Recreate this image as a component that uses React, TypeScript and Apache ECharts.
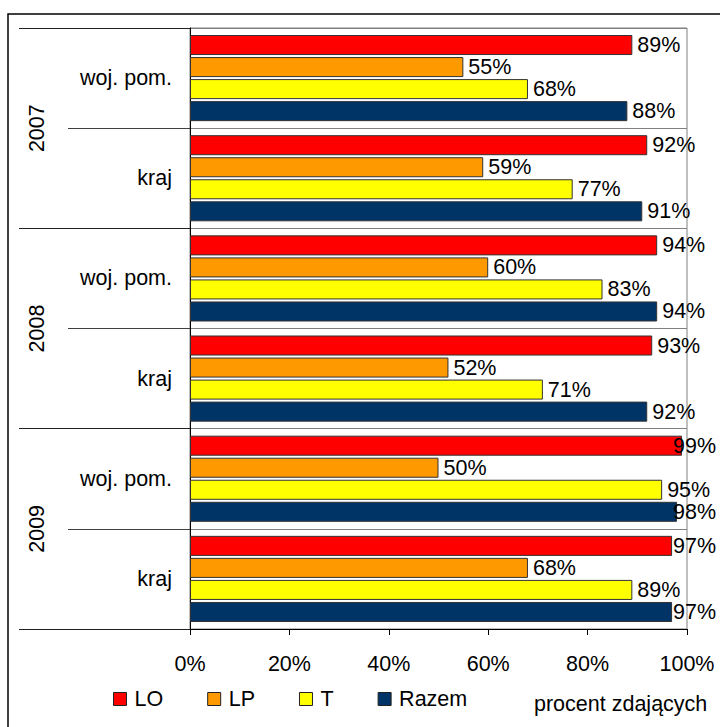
import React, { useEffect, useRef } from "react";
import * as echarts from "echarts";

const categories = ["woj. pom.", "kraj", "woj. pom.", "kraj", "woj. pom.", "kraj"];
const years = ["2007", "2008", "2009"];
const seriesNames = ["LO", "LP", "T", "Razem"];
const loValues = [89, 92, 94, 93, 99, 97];
const lpValues = [55, 59, 60, 52, 50, 68];
const tValues = [68, 77, 83, 71, 95, 89];
const razemValues = [88, 91, 94, 92, 98, 97];
const xTicks = [0, 20, 40, 60, 80, 100];
const axisTitle = "procent zdających";

const colors = ["#FF0000", "#FF9900", "#FFFF00", "#003366"];
const FONT = "'Liberation Sans', Arial, sans-serif";
const FS = 21.5;
const LABEL_RIGHT_LIMIT = 716;

export default function App() {
  const ref = useRef<HTMLDivElement>(null);
  useEffect(() => {
    if (!ref.current) return;
    const chart = echarts.init(ref.current, undefined, { renderer: "svg" });
    const values = [loValues, lpValues, tValues, razemValues];
    chart.setOption({
      animation: false,
      backgroundColor: "#ffffff",
      textStyle: { fontFamily: FONT },
      grid: {
        left: 190,
        right: 33,
        top: 28,
        bottom: 98,
        show: true,
        borderColor: "#808080",
        borderWidth: 1,
        backgroundColor: "transparent",
      },
      title: {
        text: axisTitle,
        left: 534,
        top: 693,
        padding: 0,
        textStyle: { fontFamily: FONT, fontSize: 21.5, fontWeight: "normal", color: "#000" },
      },
      legend: {
        data: seriesNames,
        left: 113,
        top: 688,
        padding: 0,
        icon: "rect",
        itemWidth: 13,
        itemHeight: 13,
        itemGap: 44,
        itemStyle: { borderColor: "#222", borderWidth: 1 },
        textStyle: { fontFamily: FONT, fontSize: FS, color: "#000", padding: [0, 0, 0, 3] },
      },
      xAxis: {
        type: "value",
        min: xTicks[0],
        max: xTicks[xTicks.length - 1],
        interval: 20,
        axisLine: { show: true, lineStyle: { color: "#000", width: 1 } },
        axisTick: { show: true, length: 6, lineStyle: { color: "#000" } },
        splitLine: { show: false },
        axisLabel: {
          formatter: "{value}%",
          fontFamily: FONT,
          fontSize: FS,
          color: "#000",
          margin: 24,
        },
      },
      yAxis: [
        {
          type: "category",
          data: categories,
          inverse: true,
          position: "left",
          axisLine: { show: true, lineStyle: { color: "#000", width: 1 } },
          axisTick: { show: true, length: 122, interval: 0, lineStyle: { color: "#404040" } },
          splitLine: { show: true, interval: 0, lineStyle: { color: "#808080", width: 1 } },
          axisLabel: { interval: 0, fontFamily: FONT, fontSize: FS, color: "#000", margin: 18 },
        },
        {
          type: "category",
          data: years,
          inverse: true,
          position: "left",
          offset: 0,
          axisLine: { show: false },
          axisTick: { show: true, length: 171, interval: 0, lineStyle: { color: "#202020" } },
          splitLine: { show: false },
          axisLabel: {
            interval: 0,
            rotate: 90,
            fontFamily: FONT,
            fontSize: FS,
            color: "#000",
            margin: 142,
          },
        },
      ],
      graphic: [
        {
          type: "rect",
          shape: { x: 8, y: 14, width: 800, height: 800 },
          style: { fill: "none", stroke: "#000", lineWidth: 1.5 },
          silent: true,
          z: 100,
        },
      ],
      series: seriesNames.map((name, i) => ({
        name,
        type: "bar",
        yAxisIndex: 0,
        data: values[i],
        barCategoryGap: "14%",
        barGap: "10%",
        itemStyle: { color: colors[i], borderColor: "#333", borderWidth: 1 },
        label: {
          show: true,
          position: "right",
          distance: 5,
          formatter: "{c}%",
          fontFamily: FONT,
          fontSize: FS,
          color: "#000",
        },
        labelLayout: (params: any) => {
          const r = params.labelRect;
          const over = r.x + r.width - LABEL_RIGHT_LIMIT;
          return over > 0 ? { dx: -over } : {};
        },
      })),
    });
    return () => chart.dispose();
  }, []);
  return (
    <div
      ref={ref}
      style={{ position: "fixed", left: 0, top: 0, width: 720, height: 727, background: "#fff" }}
    />
  );
}
